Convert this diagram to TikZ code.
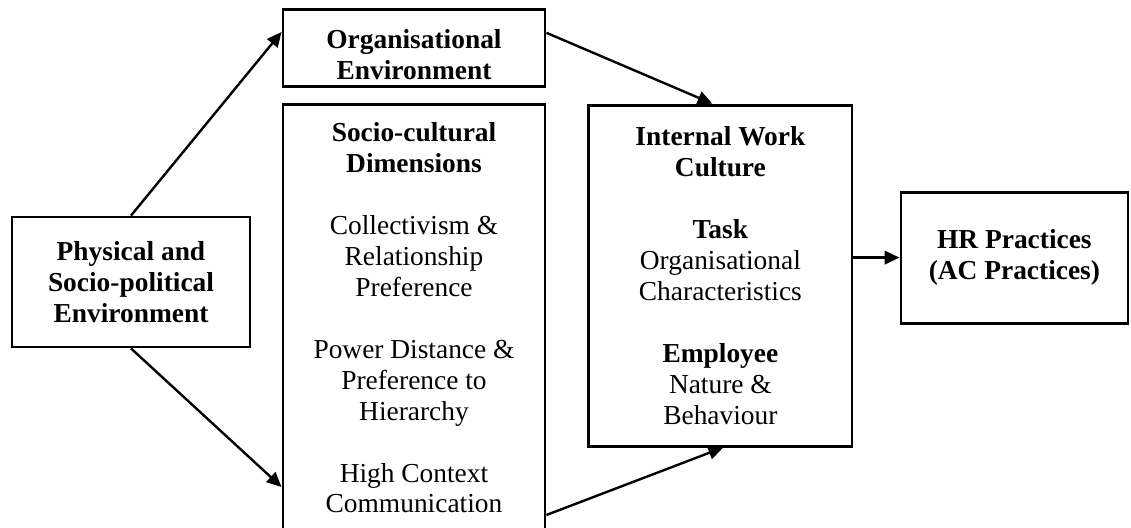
\documentclass[tikz,border=0pt]{standalone}
\usepackage{fontspec}
\setmainfont{Liberation Serif}
\usetikzlibrary{positioning,calc,arrows.meta}

\begin{document}
\begin{tikzpicture}[
% Node styles
 box/.style={draw, line width=2pt, align=center, inner sep=0pt,
 font=\fontsize{19.5}{22}\selectfont},
 head/.style={font=\fontsize{19.5}{22}\selectfont\bfseries},
% Edge styles
 edge/.style={draw, line width=1.7pt, -{Triangle[length=10.5pt, width=9.5pt]}}
]
% Page frame
\clip (0,0) rectangle (28.275,-13.2);
% Left box
\node[box, head, minimum width=5.95cm, minimum height=3.25cm] (phys) at (3.275,-7.05)
 {Physical and\\Socio-political\\Environment};
% Middle column
\node[box, head, minimum width=6.55cm, minimum height=1.925cm] (org) at (10.35,-1.21)
 {\rule{0pt}{22pt}Organisational\\Environment};
\node[box, anchor=north, minimum width=6.55cm, inner ysep=0.46cm] (socio) at (10.35,-2.575)
 {\textbf{Socio-cultural}\\\textbf{Dimensions}\\[22pt]
 Collectivism \&\\Relationship\\Preference\\[22pt]
 Power Distance \&\\Preference to\\Hierarchy\\[22pt]
 High Context\\Communication};
% Internal work culture
\node[box, minimum width=6.575cm, minimum height=8.525cm] (iwc) at (18.01,-6.89)
 {\textbf{Internal Work}\\\textbf{Culture}\\[22pt]
 \textbf{Task}\\Organisational\\Characteristics\\[22pt]
 \textbf{Employee}\\Nature \&\\Behaviour};
% Right box
\node[box, head, minimum width=5.675cm, minimum height=3.275cm] (hr) at (25.36,-6.44)
 {HR Practices\\(AC Practices)};
% Connect nodes with edges
\draw[edge] (phys.north) -- ([yshift=0.41cm]org.west);
\draw[edge] (phys.south) -- ([yshift=-9.6cm]socio.north west);
\draw[edge] ([yshift=0.39cm]org.east) -- ([xshift=-0.2cm]iwc.north);
\draw[edge] ([yshift=-10.3cm]socio.north east) -- ([xshift=0.07cm]iwc.south);
\draw[edge] (iwc.east |- hr.west) -- (hr.west);
\end{tikzpicture}
\end{document}
